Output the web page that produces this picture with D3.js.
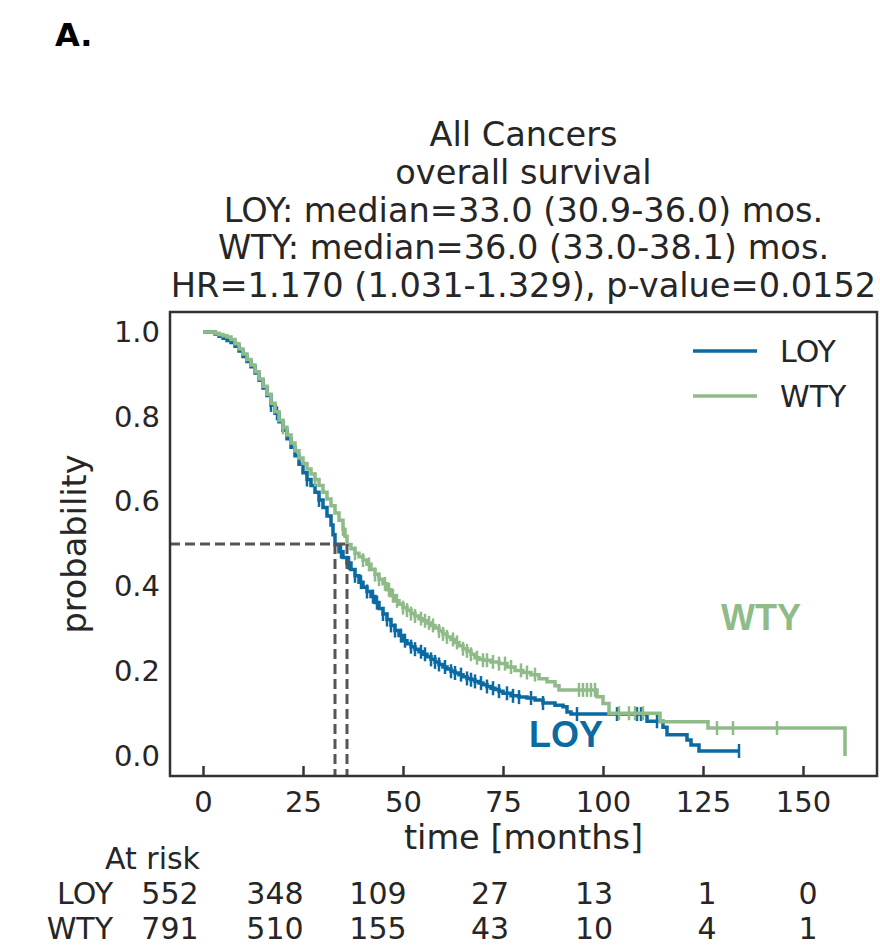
<!DOCTYPE html>
<html>
<head>
<meta charset="utf-8">
<script src="https://cdn.jsdelivr.net/npm/d3@7"></script>
<style>
  body { margin: 0; background: #fff; }
  svg { display: block; }
</style>
</head>
<body>
<div id="chart"></div>
<script>
// Kaplan-Meier steps: [months, survival]
const loyCurve = [
  [0,1.0],[3,0.995],[4,0.99],[5,0.985],[6,0.98],[7,0.975],[8,0.966],[9,0.955],[10,0.942],
  [11,0.930],[12,0.918],[13,0.903],[14,0.886],[15,0.868],[16,0.850],[17,0.828],[18,0.808],
  [19,0.788],[20,0.768],[21,0.748],[22,0.728],[23,0.708],[24,0.688],[25,0.668],[26,0.652],
  [27,0.638],[28,0.622],[29,0.604],[30,0.586],[31,0.566],[32,0.545],[32.5,0.522],[33,0.498],
  [34,0.482],[35,0.468],[36,0.455],[37,0.440],[38,0.425],[39,0.410],[40,0.398],[41,0.388],
  [42,0.376],[43,0.362],[44,0.348],[45,0.335],[46,0.322],[47,0.308],[48,0.296],[49,0.284],
  [50,0.272],[51,0.265],[52,0.258],[53,0.252],[54,0.246],[55,0.240],[56,0.234],[57,0.228],
  [58,0.222],[59,0.216],[60,0.210],[61,0.205],[62,0.200],[63,0.196],[64,0.192],[65,0.187],
  [66,0.183],[67,0.180],[68,0.176],[69,0.172],[70,0.168],[71,0.164],[72,0.160],[73,0.157],
  [74,0.153],[75,0.148],[77,0.142],[79,0.139],[81,0.137],[83,0.132],[85,0.125],[88,0.120],
  [90,0.116],[91,0.104],[92,0.099],[111,0.082],[115,0.068],[116,0.050],[121,0.038],
  [122,0.026],[124,0.012],[134,0.012]
]
const wtyCurve = [
  [0,1.0],[3,0.997],[4,0.994],[5,0.991],[6,0.988],[7,0.982],[8,0.972],[9,0.960],[10,0.948],
  [11,0.935],[12,0.922],[13,0.906],[14,0.889],[15,0.872],[16,0.853],[17,0.832],[18,0.812],
  [19,0.792],[20,0.775],[21,0.757],[22,0.738],[23,0.720],[24,0.703],[25,0.690],[26,0.677],
  [27,0.665],[28,0.652],[29,0.638],[30,0.622],[31,0.606],[32,0.590],[33,0.573],[34,0.556],
  [35,0.535],[35.5,0.518],[36,0.499],[37,0.489],[38,0.478],[39,0.470],[40,0.462],[41,0.452],
  [42,0.440],[43,0.428],[44,0.417],[45,0.406],[46,0.392],[47,0.378],[48,0.366],[49,0.358],
  [50,0.350],[51,0.344],[52,0.336],[53,0.330],[54,0.324],[55,0.319],[56,0.314],[57,0.308],
  [58,0.302],[59,0.295],[60,0.288],[61,0.281],[62,0.275],[63,0.268],[64,0.260],[65,0.253],
  [66,0.248],[67,0.240],[68,0.232],[69,0.228],[70,0.226],[72,0.222],[74,0.218],[76,0.210],
  [78,0.202],[80,0.197],[82,0.192],[84,0.182],[86,0.175],[88,0.166],[89,0.156],[98.5,0.140],
  [100,0.124],[101.5,0.101],[114.25,0.081],[126.25,0.066],[160.5,0.0]
]
// censored observations (months)
const loyCensor = [17,18.5,26,29,34.5,36.5,38,39.5,41,42.5,43.5,45,46,47,48,49.5,50.5,52,53,
  54.5,55.5,57,58,59,60.5,62,63,64.5,66,67,68,69.5,71,72.5,74,76,77.5,79,82,85,93.5,103.5,
  108.5,109.5,113.5,134]
const wtyCensor = [20,28,35,38,40,41.5,43,44,45.5,46.5,47.5,48.5,50,51,52,53,54.5,55.5,56.5,
  57.5,59,60,61,62.5,63.5,65,66,67,68.5,70,71,72.5,74,75.5,77,79.5,81,83,94,95,96,97,98,104,
  106.5,108,110,128.5,132.5,143.5]

const groups = ["LOY", "WTY"]
const medians = [33.0, 36.0]
const xTicks = [0, 25, 50, 75, 100, 125, 150]
const yTicks = [0.0, 0.2, 0.4, 0.6, 0.8, 1.0]
const atRiskLOY = [552, 348, 109, 27, 13, 1, 0]
const atRiskWTY = [791, 510, 155, 43, 10, 4, 1]
const titleLines = [
  "All Cancers",
  "overall survival",
  "LOY: median=33.0 (30.9-36.0) mos.",
  "WTY: median=36.0 (33.0-38.1) mos.",
  "HR=1.170 (1.031-1.329), p-value=0.0152"
]

const width = 880
const height = 947
const colors = {LOY: "#0a6aa1", WTY: "#8fbb88"}
const textColor = "#262626"
const font = "DejaVu Sans, sans-serif"

const svg = d3.select("#chart").append("svg")
  .attr("width", width)
  .attr("height", height)
  .attr("viewBox", [0, 0, width, height])

svg.append("rect").attr("width", width).attr("height", height).attr("fill", "#fff")

const box = {left: 170, right: 877, top: 312, bottom: 776}
const x = d3.scaleLinear().domain([-8.25, 168.5]).range([box.left, box.right])
const y = d3.scaleLinear().domain([-0.047, 1.047]).range([box.bottom, box.top])

// panel letter
svg.append("text")
  .attr("x", 55).attr("y", 46)
  .style("font-family", font).style("font-weight", "bold").style("font-size", "32px")
  .attr("fill", "#000")
  .text("A.")

// title block
svg.append("g").selectAll("text")
  .data(titleLines)
  .enter().append("text")
  .attr("x", (box.left + box.right) / 2)
  .attr("y", (d, i) => 146 + i * 37.8)
  .attr("text-anchor", "middle")
  .style("font-family", font).style("font-size", "33.6px")
  .attr("fill", textColor)
  .text(d => d)

// x axis, ticks pointing inward
const xAxis = svg.append("g")
  .attr("transform", `translate(0,${box.bottom})`)
  .call(d3.axisBottom(x).tickValues(xTicks).tickFormat(d3.format("d"))
    .tickSizeInner(-10).tickSizeOuter(0).tickPadding(15))
xAxis.select(".domain").remove()
xAxis.selectAll("line").attr("stroke", "#333").attr("stroke-width", 2.5)
xAxis.selectAll("text").style("font-family", font).style("font-size", "29px").attr("fill", textColor)

// y axis, labels only
const yAxis = svg.append("g")
  .attr("transform", `translate(${box.left},0)`)
  .call(d3.axisLeft(y).tickValues(yTicks).tickFormat(d3.format(".1f")).tickSize(0).tickPadding(10))
yAxis.select(".domain").remove()
yAxis.selectAll("text").style("font-family", font).style("font-size", "29px").attr("fill", textColor)

// axis labels
svg.append("text")
  .attr("x", (box.left + box.right) / 2).attr("y", 849)
  .attr("text-anchor", "middle")
  .style("font-family", font).style("font-size", "33.6px")
  .attr("fill", textColor)
  .text("time [months]")

svg.append("text")
  .attr("transform", `translate(86,${(box.top + box.bottom) / 2}) rotate(-90)`)
  .attr("text-anchor", "middle")
  .style("font-family", font).style("font-size", "33.6px")
  .attr("fill", textColor)
  .text("probability")

// survival curves
const line = d3.line()
  .x(d => x(d[0]))
  .y(d => y(d[1]))
  .curve(d3.curveStepAfter)

function survivalAt(curve, t) {
  let s = curve[0][1]
  for (const p of curve) {
    if (p[0] <= t) s = p[1]
  }
  return s
}

const series = [
  {name: "LOY", curve: loyCurve, censor: loyCensor},
  {name: "WTY", curve: wtyCurve, censor: wtyCensor}
]

const plot = svg.append("g")
for (const sr of series) {
  plot.append("path")
    .datum(sr.curve)
    .attr("d", line)
    .attr("fill", "none")
    .attr("stroke", colors[sr.name])
    .attr("stroke-width", 3.5)
  plot.append("g").selectAll("line")
    .data(sr.censor)
    .enter().append("line")
    .attr("x1", d => x(d)).attr("x2", d => x(d))
    .attr("y1", d => y(survivalAt(sr.curve, d)) - 7)
    .attr("y2", d => y(survivalAt(sr.curve, d)) + 7)
    .attr("stroke", colors[sr.name])
    .attr("stroke-width", 2.5)
}

// median guide lines
const dash = svg.append("g")
  .attr("stroke", "#555").attr("stroke-width", 3).attr("stroke-dasharray", "10,5").attr("fill", "none")
dash.append("line")
  .attr("x1", box.left).attr("x2", x(d3.max(medians)))
  .attr("y1", y(0.5)).attr("y2", y(0.5))
dash.selectAll(".vline")
  .data(medians)
  .enter().append("line")
  .attr("class", "vline")
  .attr("x1", d => x(d)).attr("x2", d => x(d))
  .attr("y1", y(0.5)).attr("y2", box.bottom)

// frame
svg.append("rect")
  .attr("x", box.left).attr("y", box.top)
  .attr("width", box.right - box.left).attr("height", box.bottom - box.top)
  .attr("fill", "none").attr("stroke", "#333").attr("stroke-width", 2.5)

// legend
const legend = svg.append("g")
groups.forEach((g, i) => {
  const ly = 351 + i * 45
  legend.append("line")
    .attr("x1", 693).attr("x2", 757).attr("y1", ly).attr("y2", ly)
    .attr("stroke", colors[g]).attr("stroke-width", 3.5)
  legend.append("text")
    .attr("x", 780).attr("y", ly + 11)
    .style("font-family", font).style("font-size", "30px")
    .attr("fill", textColor)
    .text(g)
})

// in-plot group labels
const annot = [
  {name: "WTY", t: 139.5, s: 0.297},
  {name: "LOY", t: 90.75, s: 0.021}
]
svg.append("g").selectAll("text")
  .data(annot)
  .enter().append("text")
  .attr("x", d => x(d.t)).attr("y", d => y(d.s))
  .attr("text-anchor", "middle")
  .style("font-family", "Liberation Sans, Arial, sans-serif")
  .style("font-weight", "bold").style("font-size", "36px")
  .attr("fill", d => colors[d.name])
  .text(d => d.name)

// at-risk table
const riskOffset = [-33, -28, -25, -13, -9, 4, 5]
const risk = svg.append("g")
  .style("font-family", font).style("font-size", "30px").attr("fill", textColor)
risk.append("text").attr("x", 200).attr("y", 869).attr("text-anchor", "end").text("At risk")
const riskRows = [atRiskLOY, atRiskWTY]
riskRows.forEach((row, r) => {
  const ry = 904 + r * 35
  risk.append("text").attr("x", 113).attr("y", ry).attr("text-anchor", "end").text(groups[r])
  risk.selectAll(".n" + r)
    .data(row)
    .enter().append("text")
    .attr("class", "n" + r)
    .attr("x", (d, i) => x(xTicks[i]) + riskOffset[i])
    .attr("y", ry)
    .attr("text-anchor", "middle")
    .text(d => d)
})
</script>
</body>
</html>
